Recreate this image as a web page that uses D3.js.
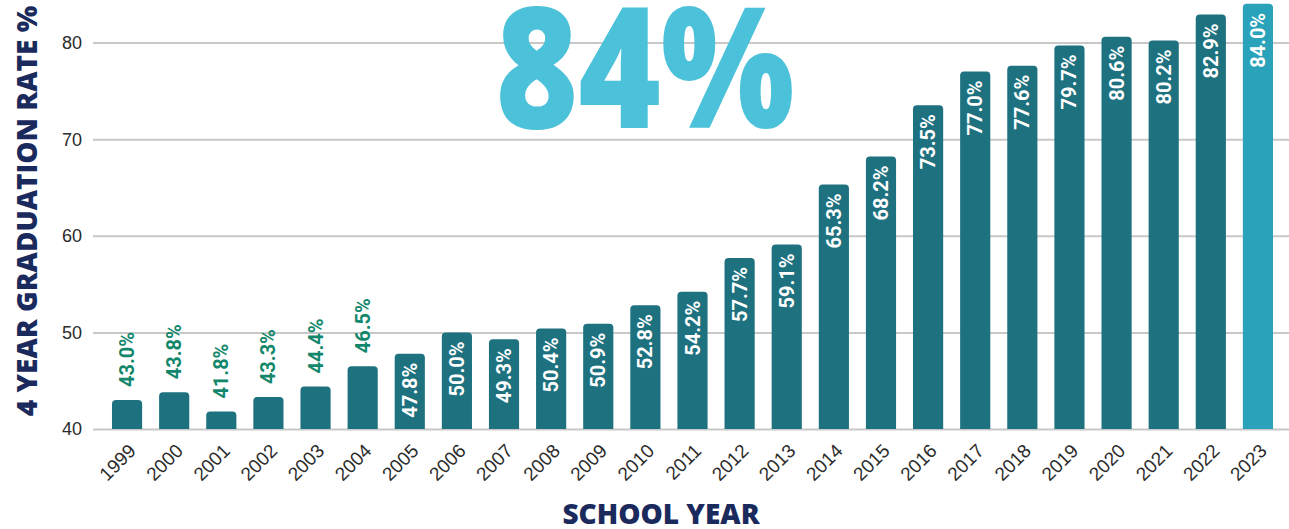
<!DOCTYPE html>
<html>
<head>
<meta charset="utf-8">
<script src="https://cdn.jsdelivr.net/npm/d3@7"></script>
<style>
  body { margin: 0; background: #fff; }
  .grid line { stroke: #c8c8c8; stroke-width: 2; }
  .grid path { display: none; }
  .tick-label { font-family: "Liberation Sans", Arial, sans-serif; fill: #2b2b2b; }
  .bar-label { font-family: Roboto, sans-serif; font-weight: bold; font-size: 20px; }
  .axis-title { font-family: "Open Sans", sans-serif; font-weight: 800; fill: #1b2a5c; }
</style>
</head>
<body>
<div id="chart"></div>
<script>
// Data
const years = ["1999","2000","2001","2002","2003","2004","2005","2006","2007","2008","2009","2010",
  "2011","2012","2013","2014","2015","2016","2017","2018","2019","2020","2021","2022","2023"]
const rates = [43.0, 43.8, 41.8, 43.3, 44.4, 46.5, 47.8, 50.0, 49.3, 50.4, 50.9, 52.8,
  54.2, 57.7, 59.1, 65.3, 68.2, 73.5, 77.0, 77.6, 79.7, 80.6, 80.2, 82.9, 84.0]
const yTicks = [40, 50, 60, 70, 80]
const headline = "84%"

// Dimensions
const width = 1289
const height = 529
const plotLeft = 93
const plotRight = 1289
const barsLeft = 103.5
const barsRight = 1281.5
const yBottom = 429
const yTop = 42.5
const insideMin = 47

const barColor = "#1e717f"
const lastColor = "#2aa2b9"
const outsideColor = "#13876b"

const svg = d3.select("#chart")
  .append("svg")
    .attr("width", width)
    .attr("height", height)

const x = d3.scaleBand()
  .domain(years)
  .range([barsLeft, barsRight])
  .paddingInner(0.36)
  .paddingOuter(0.18)

const y = d3.scaleLinear()
  .domain([40, 80])
  .range([yBottom, yTop])

// gridlines
svg.append("g")
    .attr("class", "grid")
    .attr("transform", "translate(" + plotLeft + ",0)")
    .call(d3.axisLeft(y).tickValues(yTicks).tickSize(-(plotRight - plotLeft)).tickFormat(""))

svg.selectAll(".y-label")
    .data(yTicks)
    .enter().append("text")
    .attr("class", "tick-label")
    .attr("x", 82)
    .attr("y", function(d) { return y(d) })
    .attr("dy", "0.36em")
    .attr("text-anchor", "end")
    .style("font-size", "18px")
    .text(function(d) { return d })

// big headline number (stretched in y, like the source)
svg.append("text")
    .attr("transform", "translate(645,128) scale(1,1.19)")
    .attr("text-anchor", "middle")
    .style("font-family", "'Open Sans', sans-serif")
    .style("font-weight", 800)
    .style("font-size", "141px")
    .style("fill", "#4cc2da")
    .text(headline)

// bars with rounded tops
function barPath(d, i) {
  let x0 = x(years[i])
  let w = x.bandwidth()
  let top = y(d)
  let r = 4
  return "M" + x0 + "," + yBottom +
    "V" + (top + r) +
    "Q" + x0 + "," + top + " " + (x0 + r) + "," + top +
    "H" + (x0 + w - r) +
    "Q" + (x0 + w) + "," + top + " " + (x0 + w) + "," + (top + r) +
    "V" + yBottom + "Z"
}

svg.selectAll(".bar")
    .data(rates)
    .enter().append("path")
    .attr("class", "bar")
    .attr("d", barPath)
    .attr("fill", function(d, i) { return i === rates.length - 1 ? lastColor : barColor })

// value labels
svg.selectAll(".bar-label")
    .data(rates)
    .enter().append("text")
    .attr("class", "bar-label")
    .attr("transform", function(d, i) {
      let cx = x(years[i]) + x.bandwidth() / 2
      let ty = d > insideMin ? y(d) + 9 : y(d) - 13
      return "translate(" + (cx + 7) + "," + ty + ") rotate(-90)"
    })
    .attr("text-anchor", function(d) { return d > insideMin ? "end" : "start" })
    .attr("fill", function(d) { return d > insideMin ? "#ffffff" : outsideColor })
    .text(function(d) { return d.toFixed(1) + "%" })

// x tick labels
svg.selectAll(".x-label")
    .data(years)
    .enter().append("text")
    .attr("class", "tick-label")
    .attr("transform", function(d) {
      let cx = x(d) + x.bandwidth() / 2
      return "translate(" + (cx + 10) + "," + 452 + ") rotate(-45)"
    })
    .attr("text-anchor", "end")
    .style("font-size", "19px")
    .text(function(d) { return d })

// axis titles
svg.append("text")
    .attr("class", "axis-title")
    .attr("transform", "translate(37,211) rotate(-90)")
    .attr("text-anchor", "middle")
    .style("font-size", "28px")
    .text("4 YEAR GRADUATION RATE %")

svg.append("text")
    .attr("class", "axis-title")
    .attr("x", 661)
    .attr("y", 524)
    .attr("text-anchor", "middle")
    .style("font-size", "28px")
    .text("SCHOOL YEAR")
</script>
</body>
</html>
